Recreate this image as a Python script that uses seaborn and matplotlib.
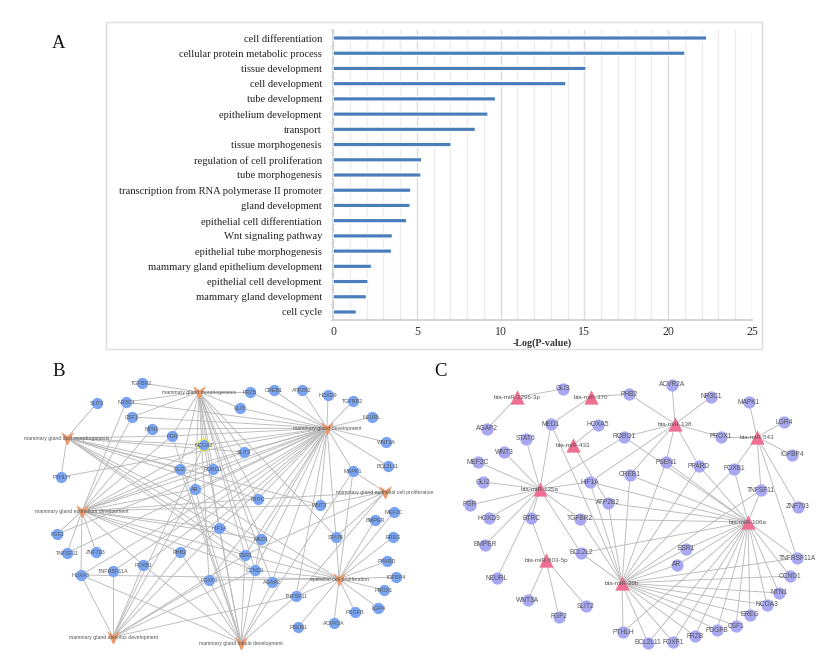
import numpy as np
import pandas as pd
import matplotlib
matplotlib.use("Agg")
import matplotlib.pyplot as plt
import seaborn as sns
from matplotlib.collections import LineCollection
from matplotlib.path import Path

# panel A values
terms = ["cell differentiation", "cellular protein metabolic process", "tissue development",
         "cell development", "tube development", "epithelium development", "transport",
         "tissue morphogenesis", "regulation of cell proliferation", "tube morphogenesis",
         "transcription from RNA polymerase II promoter", "gland development",
         "epithelial cell differentiation", "Wnt signaling pathway",
         "epithelial tube morphogenesis", "mammary gland epithelium development",
         "epithelial cell development", "mammary gland development", "cell cycle"]
log_p = [22.3, 21.0, 15.1, 13.9, 9.7, 9.25, 8.5, 7.05, 5.3, 5.25,
         4.65, 4.6, 4.4, 3.55, 3.5, 2.3, 2.1, 2.0, 1.4]
x_ticks = [0, 5, 10, 15, 20, 25]

# panel B network
b_hubs = {
    "morph": "mammary gland morphogenesis",
    "duct": "mammary gland duct morphogenesis",
    "dev": "mammary gland development",
    "ecp": "mammary gland epithelial cell proliferation",
    "epi": "mammary gland epithelium development",
    "cp": "epithelial cell proliferation",
    "alv": "mammary gland alveolus development",
    "lob": "mammary gland lobule development",
}
# second copies of a gene name carry a * in the key only
b_edges = {
    "morph": ["TGFBR2", "NR3C1", "CSF1", "PGR", "NCOA3", "GLI2", "ROBO1", "AR", "FRZB", "GLI3",
              "SLIT2", "BTRC", "MED1", "HIF1A", "ESR1", "CCND1", "FOXF1", "AGAP2", "STAT6"],
    "duct": ["SLIT3", "PTHLH", "NCOA3", "PGR", "ROBO1", "GLI2", "SLIT2", "HIF1A", "BTRC",
             "MED1", "ESR1", "CCND1", "WNT3"],
    "dev": ["CREB1", "ATP2B2", "HOXD9", "TGFBR2*", "NEURL", "WNT3A", "BCL2L11", "MAPK1", "FRZB", "GLI3",
            "SLIT2", "NCOA3", "ROBO1", "GLI2", "AR", "PGR", "NTN1", "CSF1", "NR3C1", "BTRC", "WNT3",
            "HIF1A", "MED1", "ESR1", "CCND1", "AGAP2", "STAT6", "PHB2", "FOXF1", "FOXB1", "HOXA5",
            "TNFRSF11A", "TNFSF11", "FGF2", "PTHLH", "TNFSF11*"],
    "ecp": ["BTRC", "MAPK1", "WNT3", "STAT6", "TNFSF11*", "ESR1"],
    "epi": ["NR3C1", "CSF1", "NTN1", "PGR", "NCOA3", "GLI2", "ROBO1", "AR", "SLIT2", "FGF2",
            "TNFSF11", "ZNF703", "HOXA5", "FOXB1", "PHB2", "HIF1A", "MED1", "ESR1", "CCND1", "BTRC",
            "WNT3"],
    "cp": ["MEF2C", "BMPER", "EREG", "PPARD", "IGFBP4", "PROX1", "LGR4", "PDGFB", "ACVR2A", "PSEN1",
           "STAT6", "CCND1", "ESR1", "HOXA5", "MAPK1", "HIF1A", "AR", "TNFSF11*", "FOXF1"],
    "alv": ["HOXA5", "TNFRSF11A", "FOXB1", "PHB2", "FOXF1", "AR", "ESR1", "CCND1",
            "HIF1A", "TNFSF11*", "NCOA3"],
    "lob": ["HOXA5", "FOXB1", "PHB2", "FOXF1", "AR", "ESR1", "MED1", "HIF1A", "AGAP2", "TNFSF11*",
            "NCOA3", "GLI2", "PGR", "MAPK1"],
}

# panel C network
c_mirs = ["bta-miR-1296-3p", "bta-miR-370", "bta-miR-433", "bta-miR-138", "bta-miR-543",
          "bta-miR-135a", "bta-miR-503-5p", "bta-miR-20b", "bta-miR-106a"]
shared = ["BCL2L2", "TGFBR2", "ATP2B2", "CREB1", "HIF1A", "PSEN1", "PPARD", "FOXB1", "TNFSF11", "ESR1",
          "AR", "PTHLH", "BCL2L11", "FOXF1", "FRZB", "PDGFB", "CSF1", "EREG", "NCOA3", "NTN1", "CCND1",
          "TNFRSF11A"]
c_edges = {
    "bta-miR-1296-3p": ["GLI3", "AGAP2"],
    "bta-miR-370": ["PHB2", "MED1"],
    "bta-miR-433": ["HOXA5", "ATP2B2"],
    "bta-miR-138": ["ACVR2A", "NR3C1", "PHB2", "PROX1", "ROBO1", "PSEN1", "PPARD", "CREB1", "HIF1A"],
    "bta-miR-543": ["MAPK1", "LGR4", "IGFBP4", "PROX1", "FOXB1", "TNFSF11", "ZNF703", "TNFRSF11A"],
    "bta-miR-135a": ["MED1", "STAT6", "WNT3", "MEF2C", "GLI2", "PGR", "HOXD9", "BMPER", "BTRC", "NEURL",
                     "BCL2L2", "TGFBR2", "ATP2B2", "HIF1A", "ROBO1"],
    "bta-miR-503-5p": ["BTRC", "WNT3A", "FGF2", "SLIT2"],
    "bta-miR-20b": shared + ["MED1"],
    "bta-miR-106a": shared + ["ROBO1"],
}

# where the network nodes sit on the page, in pixels
b_layout = {
    "morph": (199, 392), "duct": (67, 438), "dev": (327, 428), "ecp": (385, 492), "epi": (82, 511),
    "cp": (339, 579), "alv": (113, 637), "lob": (241, 643),
    "TGFBR2": (142, 383), "SLIT3": (97, 403), "NR3C1": (126, 402), "CSF1": (132, 417), "NTN1": (152, 429),
    "PGR": (172, 436), "NCOA3": (204, 445), "GLI2": (180, 469), "ROBO1": (213, 469), "AR": (195, 489),
    "PTHLH": (61, 477), "FRZB": (250, 392), "CREB1": (274, 390), "ATP2B2": (302, 390), "HOXD9": (328, 395),
    "TGFBR2*": (353, 401), "NEURL": (372, 417), "WNT3A": (386, 442), "BCL2L11": (388, 466), "MAPK1": (353, 471),
    "GLI3": (240, 408), "SLIT2": (244, 452), "BTRC": (258, 499), "WNT3": (320, 505), "FGF2": (57, 534),
    "TNFSF11": (67, 553), "ZNF703": (96, 552), "HOXA5": (81, 575), "TNFRSF11A": (113, 571), "FOXB1": (143, 565),
    "PHB2": (180, 552), "FOXF1": (209, 580), "HIF1A": (219, 528), "MED1": (261, 539), "ESR1": (245, 555),
    "CCND1": (255, 570), "AGAP2": (272, 582), "TNFSF11*": (296, 596), "PSEN1": (298, 627), "ACVR2A": (334, 623),
    "PDGFB": (355, 612), "LGR4": (378, 608), "PROX1": (384, 590), "IGFBP4": (396, 577), "PPARD": (387, 561),
    "EREG": (393, 537), "MEF2C": (394, 512), "BMPER": (375, 520), "STAT6": (336, 537),
}
c_layout = {
    "bta-miR-1296-3p": (517, 397), "bta-miR-370": (591, 397), "bta-miR-433": (573, 445), "bta-miR-138": (675, 424),
    "bta-miR-543": (757, 437), "bta-miR-135a": (540, 489), "bta-miR-503-5p": (546, 560), "bta-miR-20b": (622, 583),
    "bta-miR-106a": (748, 522),
    "GLI3": (563, 389), "PHB2": (629, 394), "AGAP2": (487, 429), "MED1": (551, 424), "HOXA5": (598, 425),
    "ROBO1": (624, 437), "STAT6": (526, 439), "WNT3": (504, 452), "MEF2C": (478, 462), "GLI2": (483, 482),
    "HIF1A": (590, 482), "CREB1": (630, 475), "ATP2B2": (608, 503), "PGR": (470, 505), "ACVR2A": (672, 385),
    "NR3C1": (711, 397), "MAPK1": (749, 402), "LGR4": (784, 422), "IGFBP4": (792, 455), "PROX1": (721, 437),
    "PSEN1": (666, 462), "PPARD": (699, 466), "FOXB1": (734, 469), "TNFSF11": (761, 490), "ZNF703": (798, 507),
    "HOXD9": (489, 518), "BTRC": (531, 518), "TGFBR2": (580, 519), "BMPER": (485, 545), "BCL2L2": (581, 553),
    "NEURL": (497, 578), "WNT3A": (528, 600), "SLIT2": (586, 606), "FGF2": (559, 617), "PTHLH": (623, 632),
    "ESR1": (686, 549), "AR": (677, 565), "TNFRSF11A": (797, 558), "CCND1": (790, 576), "NTN1": (779, 593),
    "NCOA3": (767, 605), "EREG": (750, 615), "CSF1": (736, 626), "PDGFB": (717, 630), "FRZB": (695, 636),
    "FOXF1": (673, 642), "BCL2L11": (648, 643),
}

W, H = 830, 663
sns.set_theme(style="white")
plt.rcParams["font.family"] = "Liberation Sans"

fig = plt.figure(figsize=(W / 100, H / 100), dpi=100)

# full page axes in pixel units for the networks, frame and panel letters
page = fig.add_axes([0, 0, 1, 1])
page.set_xlim(0, W)
page.set_ylim(H, 0)
page.axis("off")

page.add_patch(plt.Rectangle((106, 22), 656, 327, fill=False, ec="#dedede", lw=1))
for letter, px, py in [("A", 52, 44), ("B", 52, 371), ("C", 434, 371)]:
    page.text(px, py, letter, family="Liberation Serif", fontsize=13.5, color="#111111", va="center")

# panel A
ax = fig.add_axes([333 / W, 1 - 319.6 / H, (752 - 333) / W, (319.6 - 30.4) / H])
df_a = pd.DataFrame({"term": terms, "log_p": log_p})
sns.barplot(data=df_a, y="term", x="log_p", orient="h", color="#4a7ebb", saturation=1, width=0.3, ax=ax, zorder=3)
for bar in ax.patches:
    bar.set_snap(False)
ax.set_xlim(0, 25)
ax.set_ylim(18.5, -0.5)
ax.patch.set_alpha(0)
ax.set_xticks(np.arange(0, 26), minor=True)
ax.set_xticks(x_ticks)
ax.set_yticks(np.arange(-0.5, 19), minor=True)
ax.grid(False)
ax.grid(True, axis="x", which="minor", color="#ececec", lw=1)
ax.grid(True, axis="x", which="major", color="#dcdcdc", lw=1)
ax.set_axisbelow(True)
for side in ["top", "right"]:
    ax.spines[side].set_visible(False)
ax.spines["left"].set_color("#d0d0d0")
ax.spines["bottom"].set_color("#d0d0d0")
ax.tick_params(axis="y", which="major", length=0, pad=8, labelsize=7.55, labelcolor="#222222")
ax.tick_params(axis="y", which="minor", left=True, length=2.5, width=0.7, color="#d8d8d8")
ax.tick_params(axis="x", which="both", length=0, pad=4.5, labelsize=8.6, labelcolor="#333333")
for lab in ax.get_yticklabels() + ax.get_xticklabels():
    lab.set_family("Liberation Serif")
ax.set_ylabel("")
ax.set_xlabel("-Log(P-value)", family="Liberation Serif", fontsize=7.2, fontweight="bold", labelpad=0.5, color="#333333")


def draw_network(layout, edges, hub_names, gene_color, hub_color, hub_marker, hub_size, gene_size):
    segs = [(layout[hub], layout[g]) for hub, genes in edges.items() for g in genes]
    page.add_collection(LineCollection(segs, colors="#bababa", linewidths=0.65, zorder=1))
    nodes = pd.DataFrame([(k, v[0], v[1]) for k, v in layout.items()], columns=["name", "x", "y"])
    is_hub = nodes["name"].isin(list(hub_names))
    sns.scatterplot(data=nodes[~is_hub], x="x", y="y", color=gene_color, s=gene_size, linewidth=0, ax=page, zorder=2)
    sns.scatterplot(data=nodes[is_hub], x="x", y="y", color=hub_color, marker=hub_marker, s=hub_size, linewidth=0,
                    ax=page, zorder=3)
    return nodes


# panel B
v_shape = Path([(-1, 1), (0, 0.35), (1, 1), (0.1, -1), (-0.1, -1), (-1, 1)])
nodes = draw_network(b_layout, b_edges, b_hubs, "#79a4f2", "#ec9a6c", v_shape, 85, 66)
for _, row in nodes.iterrows():
    hub = row["name"] in b_hubs
    page.text(row["x"], row["y"] + 0.5, b_hubs.get(row["name"], row["name"].rstrip("*")),
              fontsize=3.7 if hub else 3.9, color="#555555", ha="center", va="center", zorder=4)
ring = nodes[nodes["name"] == "NCOA3"]
sns.scatterplot(data=ring, x="x", y="y", s=74, facecolor="none", edgecolor="#e8e84a", linewidth=0.8, ax=page, zorder=2)

# panel C
nodes = draw_network(c_layout, c_edges, c_mirs, "#a8a8f2", "#ee6f92", "^", 105, 78)
for _, row in nodes.iterrows():
    hub = row["name"] in c_mirs
    page.text(row["x"], row["y"] + (0.5 if hub else 0), row["name"], fontsize=4.5 if hub else 4.8, color="#555555",
              ha="center", va="center", zorder=4)

page.set_xlabel("")
page.set_ylabel("")
page.set_xlim(0, W)
page.set_ylim(H, 0)
page.axis("off")

fig.savefig("out.png", dpi=100, facecolor="white")
